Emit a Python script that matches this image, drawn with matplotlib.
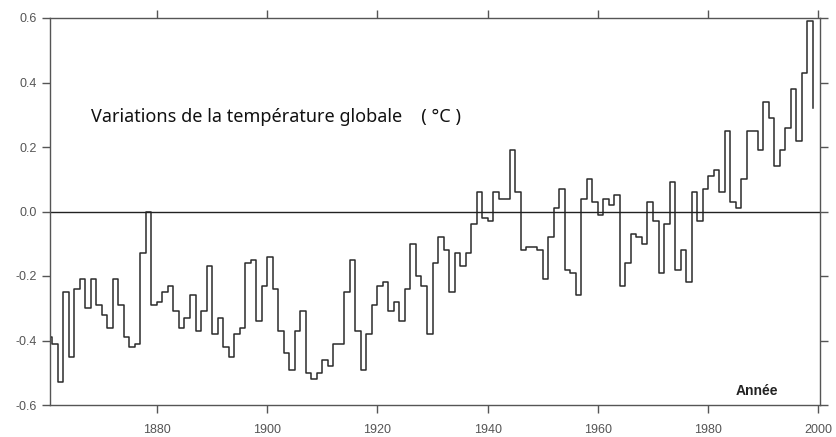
import numpy as np
import matplotlib
matplotlib.use("Agg")
import matplotlib.pyplot as plt

years = np.arange(1860, 2000)
anomaly = [
    -0.39, -0.41, -0.53, -0.25, -0.45, -0.24, -0.21, -0.30, -0.21, -0.29,   # 1860-1869
    -0.32, -0.36, -0.21, -0.29, -0.39, -0.42, -0.41, -0.13, 0.00, -0.29,    # 1870-1879
    -0.28, -0.25, -0.23, -0.31, -0.36, -0.33, -0.26, -0.37, -0.31, -0.17,   # 1880-1889
    -0.38, -0.33, -0.42, -0.45, -0.38, -0.36, -0.16, -0.15, -0.34, -0.23,   # 1890-1899
    -0.14, -0.24, -0.37, -0.44, -0.49, -0.37, -0.31, -0.50, -0.52, -0.50,   # 1900-1909
    -0.46, -0.48, -0.41, -0.41, -0.25, -0.15, -0.37, -0.49, -0.38, -0.29,   # 1910-1919
    -0.23, -0.22, -0.31, -0.28, -0.34, -0.24, -0.10, -0.20, -0.23, -0.38,   # 1920-1929
    -0.16, -0.08, -0.12, -0.25, -0.13, -0.17, -0.13, -0.04, 0.06, -0.02,    # 1930-1939
    -0.03, 0.06, 0.04, 0.04, 0.19, 0.06, -0.12, -0.11, -0.11, -0.12,        # 1940-1949
    -0.21, -0.08, 0.01, 0.07, -0.18, -0.19, -0.26, 0.04, 0.10, 0.03,        # 1950-1959
    -0.01, 0.04, 0.02, 0.05, -0.23, -0.16, -0.07, -0.08, -0.10, 0.03,       # 1960-1969
    -0.03, -0.19, -0.04, 0.09, -0.18, -0.12, -0.22, 0.06, -0.03, 0.07,      # 1970-1979
    0.11, 0.13, 0.06, 0.25, 0.03, 0.01, 0.10, 0.25, 0.25, 0.19,             # 1980-1989
    0.34, 0.29, 0.14, 0.19, 0.26, 0.38, 0.22, 0.43, 0.59, 0.32,             # 1990-1999
]
xticks = [1880, 1900, 1920, 1940, 1960, 1980, 2000]
yticks = [-0.6, -0.4, -0.2, 0.0, 0.2, 0.4, 0.6]
ytick_labels = ["-0.6", "-0.4", "-0.2", "0.0", "0.2", "0.4", "0.6"]
title_text = "Variations de la température globale    ( °C )"
xlabel_text = "Année"

fig = plt.figure(figsize=(8.36, 4.37), dpi=100)
ax = fig.add_axes([50 / 836, 1 - 405 / 437, 770 / 836, 387 / 437])

ax.step(years, anomaly, where="post", color="#2b2b2b", lw=1.1)
ax.axhline(0, color="#222222", lw=1.0)

ax.set_xlim(1860.6, 2000.3)
ax.set_ylim(-0.6, 0.6)
ax.set_xticks(xticks)
ax.set_xticklabels([str(t) for t in xticks])
ax.set_yticks(yticks)
ax.set_yticklabels(ytick_labels)

for s in ax.spines.values():
    s.set_color("#555555")
    s.set_linewidth(1.0)

ax.tick_params(axis="both", direction="out", length=5.5, width=1, color="#555555",
               labelcolor="#555555", labelsize=9, pad=4)
ax.tick_params(axis="x", top=True, labeltop=False, pad=8)
ax.tick_params(axis="y", right=True, labelright=False)
for lab in ax.get_xticklabels() + ax.get_yticklabels():
    lab.set_family("Liberation Sans")

fig.text(91 / 836, 1 - 117 / 437, title_text, ha="left", va="center",
         fontsize=13, family="Noto Sans", color="#111111")
fig.text(757 / 836, 1 - 391 / 437, xlabel_text, ha="center", va="center",
         fontsize=10, fontweight="bold", family="Liberation Sans", color="#222222")

fig.savefig("out.png", dpi=100)
